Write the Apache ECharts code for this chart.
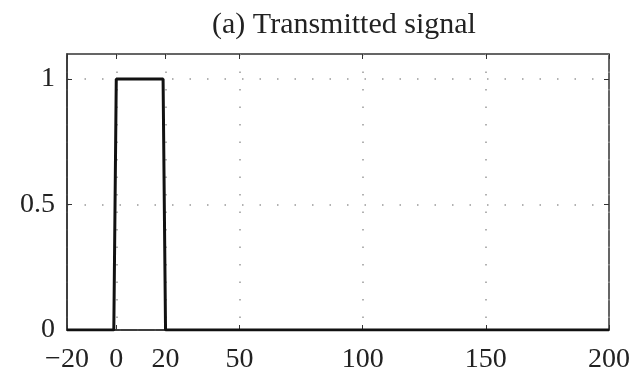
<!DOCTYPE html>
<html>
<head>
<meta charset="utf-8">
<script src="https://cdn.jsdelivr.net/npm/echarts@6/dist/echarts.min.js"></script>
<style>
  html, body { margin: 0; padding: 0; background: #fff; }
  #main { width: 635px; height: 377px; }
</style>
</head>
<body>
<div id="main"></div>
<script>
// transmitted pulse (time, amplitude)
var timeVals = [-20, -1, 0, 19, 20, 200];
var signalVals = [0, 0, 1, 1, 0, 0];
var xTicks = [-20, 0, 20, 50, 100, 150, 200];
var yTicks = [0, 0.5, 1];

var myChart = echarts.init(document.getElementById("main"));
var font = "Liberation Serif";
var gridDots = { color: "#999", width: 1.5, type: [1.5, 16] };
var minusFmt = function (v) { return String(v).replace("-", "\u2212"); };

var option = {
  animation: false,
  title: {
    text: "(a) Transmitted signal",
    left: 339,
    textAlign: "center",
    top: 5,
    textStyle: { fontFamily: font, fontSize: 30, fontWeight: "normal", color: "#222" },
  },
  grid: {
    left: 67,
    right: 26,
    top: 54,
    bottom: 47,
    show: true,
    borderColor: "#333",
    borderWidth: 1.5,
  },
  xAxis: [
    {
      type: "value",
      min: -20,
      max: 200,
      axisLine: { onZero: false, lineStyle: { color: "#333", width: 1.5 } },
      axisTick: { inside: true, length: 5, customValues: xTicks, lineStyle: { color: "#333" } },
      axisLabel: { customValues: xTicks, formatter: minusFmt, fontFamily: font, fontSize: 28, color: "#222", margin: 16 },
      splitLine: { show: true, lineStyle: gridDots },
    },
    {
      type: "value",
      position: "top",
      min: -20,
      max: 200,
      axisLine: { show: false, onZero: false },
      axisTick: { inside: true, length: 5, customValues: xTicks, lineStyle: { color: "#333" } },
      axisLabel: { show: false },
      splitLine: { show: false },
    },
  ],
  yAxis: [
    {
      type: "value",
      min: 0,
      max: 1.1,
      axisLine: { show: true, onZero: false, lineStyle: { color: "#333", width: 1.5 } },
      axisTick: { show: true, inside: true, length: 5, customValues: yTicks, lineStyle: { color: "#333" } },
      axisLabel: { customValues: yTicks, fontFamily: font, fontSize: 28, color: "#222", margin: 12 },
      splitLine: { show: true, lineStyle: gridDots },
    },
    {
      type: "value",
      position: "right",
      min: 0,
      max: 1.1,
      axisLine: { show: false, onZero: false },
      axisTick: { show: true, inside: true, length: 5, customValues: yTicks, lineStyle: { color: "#333" } },
      axisLabel: { show: false },
      splitLine: { show: false },
    },
  ],
  series: [
    {
      type: "line",
      data: timeVals.map(function (t, i) { return [t, signalVals[i]]; }),
      showSymbol: false,
      lineStyle: { color: "#111", width: 3 },
      z: 5,
    },
  ],
};
myChart.setOption(option);
</script>
</body>
</html>
